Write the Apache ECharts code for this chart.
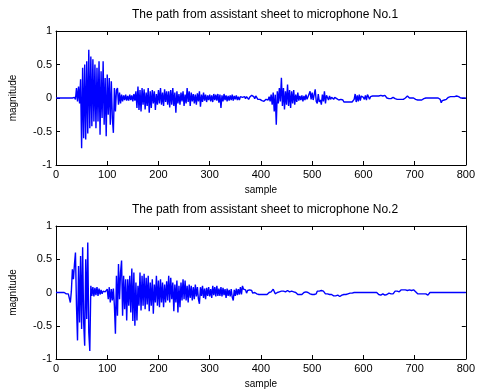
<!DOCTYPE html>
<html>
<head>
<meta charset="utf-8">
<script src="https://cdn.jsdelivr.net/npm/echarts@6/dist/echarts.min.js"></script>
<style>
  html, body { margin: 0; padding: 0; background: #fff; }
  #chart { width: 478px; height: 392px; }
</style>
</head>
<body>
<div id="chart"></div>
<script>
// one value every STEP samples
var STEP = 2;

var titles = [
  'The path from assistant sheet to microphone No.1',
  'The path from assistant sheet to microphone No.2'
];
var xTicks = [0, 100, 200, 300, 400, 500, 600, 700, 800];
var yTicks = [-1, -0.5, 0, 0.5, 1];

// microphone No.1, samples 0..800
var mic1 = [
  0,0,0,0,0,0,0,0,0,0,
  0,0,0,0,0,0,0,0,0.01,-0.02,
  0.15,-0.05,0.17,-0.08,0.28,-0.75,0.45,-0.6,0.5,-0.62,
  0.55,-0.53,0.72,-0.45,0.62,-0.42,0.58,-0.35,0.5,-0.45,
  0.45,-0.35,0.55,-0.55,0.4,-0.3,0.55,-0.4,0.3,-0.57,
  0.35,-0.25,0.3,-0.4,0.25,-0.3,-0.52,0.15,-0.2,0.12,
  0.15,-0.1,0.08,-0.08,0.05,-0.05,0.04,-0.03,0.05,-0.04,
  0.03,-0.04,0.05,-0.03,0.04,-0.05,0.06,-0.04,0.1,-0.15,
  0.17,-0.18,0.12,-0.2,0.15,-0.1,0.13,-0.17,0.08,-0.12,
  0.15,-0.22,0.1,-0.15,0.12,-0.08,0.1,-0.18,0.06,-0.1,
  0.12,-0.08,0.15,-0.1,0.08,-0.12,0.13,-0.06,0.1,-0.1,
  0.1,-0.14,0.12,-0.1,0.15,-0.12,0.08,-0.22,0.1,-0.08,
  0.06,-0.1,0.08,-0.05,0.1,-0.12,0.05,-0.08,0.15,-0.06,
  0.1,-0.12,0.08,-0.05,0.06,-0.08,0.05,-0.1,0.07,-0.05,
  0.1,-0.13,0.05,-0.06,0.08,-0.04,0.05,-0.06,0.04,-0.03,
  0.05,-0.05,0.04,-0.06,0.06,-0.03,0.05,-0.04,0.06,-0.07,
  0.05,-0.15,0.04,-0.05,0.06,-0.03,0.04,-0.05,0.03,-0.04,
  0.04,-0.03,0.05,-0.04,0.03,-0.02,0.04,-0.03,0.02,-0.03,
  0.02,0.03,0.01,0.03,0.02,-0.01,0.02,0.03,-0.02,0.01,
  0.02,0.04,0.03,0.02,-0.01,0.03,0.02,-0.02,-0.03,-0.02,
  -0.03,-0.04,-0.02,-0.05,-0.03,-0.02,-0.04,-0.03,0.02,-0.05,
  0.05,-0.1,0.08,-0.2,0.05,-0.4,0.1,-0.08,0.15,-0.05,
  0.3,-0.12,0.15,-0.17,0.1,-0.1,0.2,-0.12,0.12,-0.15,
  0.1,-0.08,0.12,-0.1,0.05,-0.06,0.08,-0.04,0.03,-0.03,
  0.04,-0.05,0.03,-0.03,0.05,-0.02,0.02,0.03,0.1,-0.02,
  0.08,-0.03,0.05,0.13,-0.05,-0.08,0.06,-0.06,-0.03,-0.1,
  0.05,-0.05,0.1,-0.08,0.04,0.02,-0.03,0.03,-0.02,0.01,
  0.02,-0.02,0.01,0,-0.01,-0.03,-0.03,-0.03,-0.02,-0.03,
  -0.03,-0.06,-0.06,-0.06,-0.06,-0.06,-0.06,-0.06,-0.06,-0.06,
  -0.05,-0.02,0.06,-0.06,0.04,-0.05,0.05,-0.04,0.03,0.02,
  0.01,-0.02,0.04,-0.03,0.05,0.02,-0.02,0.02,0.03,0.03,
  0.03,0.03,0.04,0.03,0.03,0.03,0.03,0.04,0.03,0.03,
  0.04,0.04,0.03,0,-0.01,-0.01,-0.02,-0.01,-0.01,0.01,
  0,-0.01,-0.02,-0.02,-0.02,-0.02,-0.02,-0.02,-0.02,-0.02,
  0,0,0.01,0.03,0.02,0,0,0,0,0,
  0,-0.02,-0.03,-0.03,-0.03,-0.03,-0.03,-0.03,-0.03,-0.01,
  0,0,0,0,0,0,0,0,0,0,
  0,0,0,0,0,-0.02,-0.07,-0.04,-0.03,-0.03,
  -0.02,-0.02,0,0.01,0.02,0.02,0.03,0.02,0.03,0.02,
  0.02,0.03,0.03,0.02,0.01,0,0,0,0,0,
  0
];

// microphone No.2, samples 0..800
var mic2 = [
  0,0,0,0,0,0,0,0,0,0,
  -0.02,-0.02,-0.02,-0.02,-0.15,0.02,0.35,0.2,0.42,0.6,
  -0.2,-0.72,0.4,-0.45,0.55,-0.55,0.68,-0.45,-0.8,0.5,
  -0.4,0.75,-0.6,-0.88,0.1,-0.05,0.08,-0.06,0.07,-0.04,
  0.08,-0.05,0.06,-0.03,0.04,-0.02,0.02,0,0.01,-0.02,
  0.05,-0.1,0.08,-0.15,0.05,-0.12,0.06,-0.2,-0.62,0.25,
  -0.35,0.43,-0.1,0.3,0.48,-0.35,0.25,-0.25,0.2,-0.42,
  0.2,-0.2,0.25,-0.3,0.36,-0.43,0.3,-0.5,0.15,-0.42,
  0.1,-0.2,0.3,-0.27,0.25,-0.2,0.28,-0.25,0.22,-0.18,
  0.25,-0.28,0.15,-0.2,0.2,-0.32,0.12,-0.15,0.25,-0.2,
  0.18,-0.22,0.2,-0.15,0.15,-0.22,0.12,-0.15,0.17,-0.12,
  0.25,-0.15,0.22,-0.1,0.15,-0.28,0.12,-0.15,0.18,-0.3,
  0.1,-0.22,0.15,-0.12,0.2,-0.1,0.18,-0.12,0.1,-0.15,
  0.12,-0.08,0.1,-0.12,0.08,-0.1,0.12,-0.06,0.08,-0.1,
  -0.17,0.08,-0.05,0.1,-0.08,0.06,-0.1,0.07,-0.05,0.08,
  -0.06,0.05,-0.08,0.1,-0.04,0.08,-0.06,0.1,-0.05,0.06,
  -0.05,0.08,-0.06,0.07,-0.04,0.05,-0.08,0.06,-0.05,0.04,
  -0.06,0.05,-0.07,-0.12,0.04,-0.05,0.06,-0.04,0.05,-0.03,
  0.08,-0.03,0.1,0.05,0.02,0.04,-0.01,0.03,0.02,0.04,
  0.01,0.03,-0.01,0.02,0,0.03,-0.02,-0.03,-0.03,-0.03,
  -0.03,-0.03,-0.03,-0.02,-0.03,-0.03,-0.03,-0.03,0,-0.02,
  0.01,-0.01,0.05,0.02,-0.02,0.01,0,-0.02,0.01,0.02,
  0.02,0.03,0.02,0.04,0.01,0.02,0.03,0.02,0.01,0.03,
  0.02,0.03,0.01,0.02,0,-0.02,-0.03,-0.03,-0.03,-0.03,
  -0.03,-0.02,0,0.02,0.01,0.01,0,-0.02,-0.02,-0.03,
  -0.03,-0.02,-0.03,-0.02,-0.02,0.02,0.03,0.02,0.03,0.03,
  0.02,0.02,0,-0.02,-0.02,-0.02,-0.02,-0.03,-0.02,-0.03,
  -0.04,-0.05,-0.04,-0.05,-0.05,-0.04,-0.05,-0.06,-0.04,-0.04,
  -0.03,-0.03,-0.04,-0.03,-0.03,-0.02,-0.01,-0.01,-0.01,-0.01,
  0,0,0,0,0,0,0,0,0,0,
  0,0,0,0,0,0,0,0,0,0,
  0,0,0,0,-0.02,-0.03,-0.02,-0.04,-0.03,-0.02,
  -0.03,-0.04,-0.02,-0.03,-0.02,-0.01,-0.03,-0.02,0,-0.02,
  0.01,0.02,0.01,0.02,0.02,0.01,0.02,0.04,0.05,0.04,
  0.04,0.04,0.04,0.03,0.04,0.04,0.04,0.03,0.03,0.04,
  0.03,0.01,-0.01,-0.02,-0.02,-0.02,-0.02,-0.02,-0.02,-0.02,
  -0.02,-0.02,-0.02,-0.04,-0.01,0,0,0,0,0,
  0,0,0,0,0,0,0,0,0,0,
  0,0,0,0,0,0,0,0,0,0,
  0,0,0,0,0,0,0,0,0,0,
  0
];

var FONT = 'Liberation Sans';
var grids = [
  { left: 52, top: 31, width: 415, height: 134 },
  { left: 52, top: 226, width: 415, height: 133 }
];

function toPoints(arr) {
  return arr.map(function (v, i) { return [i * STEP, v]; });
}

var chart = echarts.init(document.getElementById('chart'), null, { renderer: 'canvas' });

var xAxes = [], yAxes = [], series = [];
grids.forEach(function (g, k) {
  // bottom x axis with labels
  xAxes.push({
    gridIndex: k, type: 'value', min: xTicks[0], max: xTicks[xTicks.length - 1], interval: 100,
    position: 'bottom',
    name: 'sample', nameLocation: 'middle', nameGap: 20,
    nameTextStyle: { color: '#000', fontFamily: FONT, fontSize: 10 },
    axisLine: { show: true, onZero: false, lineStyle: { color: '#000', width: 1 } },
    axisTick: { show: true, inside: true, length: 4, lineStyle: { color: '#000' } },
    axisLabel: { color: '#000', fontFamily: FONT, fontSize: 11, margin: 4 },
    splitLine: { show: false }
  });
  // mirrored top axis, ticks only
  xAxes.push({
    gridIndex: k, type: 'value', min: xTicks[0], max: xTicks[xTicks.length - 1], interval: 100,
    position: 'top',
    axisLine: { show: true, onZero: false, lineStyle: { color: '#000', width: 1 } },
    axisTick: { show: true, inside: true, length: 4, lineStyle: { color: '#000' } },
    axisLabel: { show: false },
    splitLine: { show: false }
  });
  yAxes.push({
    gridIndex: k, type: 'value', min: yTicks[0], max: yTicks[yTicks.length - 1], interval: 0.5,
    position: 'left',
    name: 'magnitude', nameLocation: 'middle', nameGap: 38, nameRotate: 90,
    nameTextStyle: { color: '#000', fontFamily: FONT, fontSize: 10 },
    axisLine: { show: true, onZero: false, lineStyle: { color: '#000', width: 1 } },
    axisTick: { show: true, inside: true, length: 4, lineStyle: { color: '#000' } },
    axisLabel: { color: '#000', fontFamily: FONT, fontSize: 11, margin: 4 },
    splitLine: { show: false }
  });
  yAxes.push({
    gridIndex: k, type: 'value', min: yTicks[0], max: yTicks[yTicks.length - 1], interval: 0.5,
    position: 'right',
    axisLine: { show: true, onZero: false, lineStyle: { color: '#000', width: 1 } },
    axisTick: { show: true, inside: true, length: 4, lineStyle: { color: '#000' } },
    axisLabel: { show: false },
    splitLine: { show: false }
  });
  series.push({
    type: 'line',
    xAxisIndex: k * 2, yAxisIndex: k * 2,
    data: toPoints(k === 0 ? mic1 : mic2),
    showSymbol: false, symbol: 'none', sampling: null,
    lineStyle: { color: '#0000ff', width: 1.4 },
    z: 1
  });
});

chart.setOption({
  animation: false,
  backgroundColor: '#ffffff',
  title: titles.map(function (t, k) {
    return {
      text: t, left: 260, top: k === 0 ? 4 : 199, textAlign: 'center',
      textStyle: { color: '#000', fontFamily: FONT, fontSize: 12, fontWeight: 'normal' }
    };
  }),
  grid: grids,
  xAxis: xAxes,
  yAxis: yAxes,
  series: series
});
</script>
</body>
</html>
